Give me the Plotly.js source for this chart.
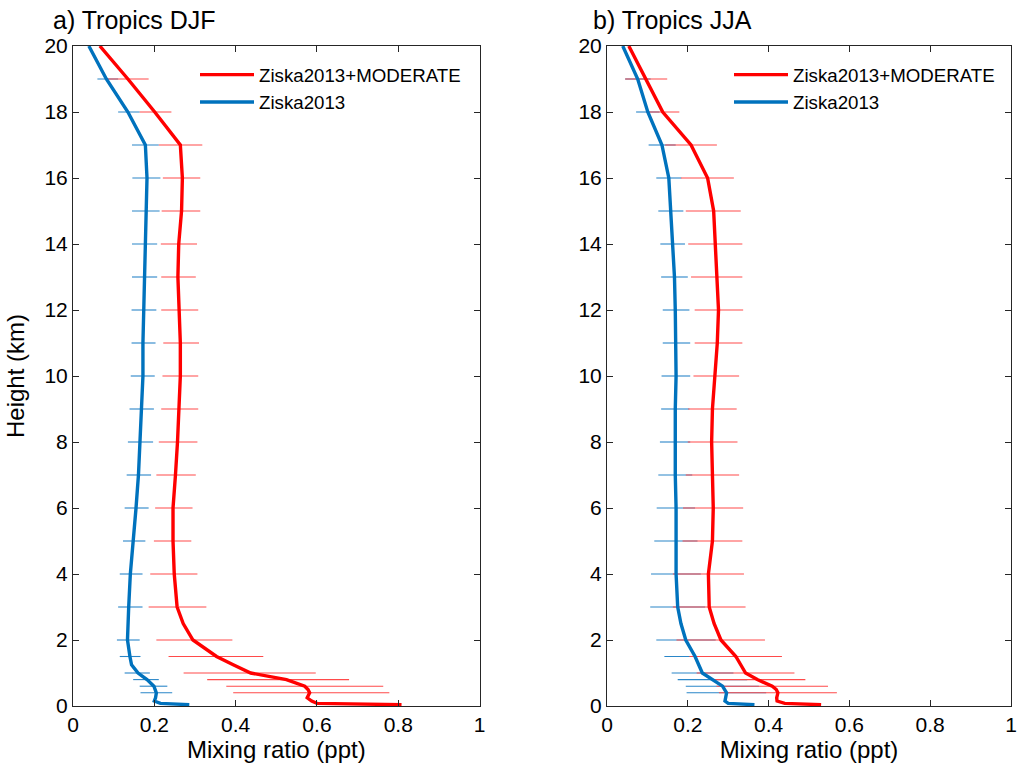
<!DOCTYPE html>
<html>
<head>
<meta charset="utf-8">
<script src="https://cdn.plot.ly/plotly-3.0.1.min.js"></script>
<style>html,body{margin:0;padding:0;background:#fff;}#chart{width:1017px;height:772px;}</style>
</head>
<body>
<div id="chart"></div>
<script>
// ---------- Data ----------
// Panel a) Tropics DJF – profiles (height in km, mixing ratio in ppt)
const djfModHeight = [20,19,18,17,16,15,14,13,12,11,10,9,8,7,6,5,4,3,2.5,2,1.5,1.25,1.0,0.8,0.6,0.5,0.4,0.25,0.15,0.08,0.04];
const djfModValue  = [0.066,0.135,0.201,0.264,0.269,0.267,0.260,0.258,0.261,0.264,0.264,0.261,0.257,0.252,0.246,0.246,0.249,0.256,0.271,0.295,0.353,0.394,0.437,0.525,0.570,0.578,0.582,0.576,0.587,0.600,0.808];
const djfZisHeight = [20,19,18,17,16,15,14,13,12,11,10,9,8,7,6,5,4,3,2,1.5,1.25,1.0,0.8,0.6,0.4,0.25,0.15,0.08,0.04];
const djfZisValue  = [0.039,0.082,0.135,0.178,0.182,0.180,0.177,0.176,0.174,0.172,0.172,0.169,0.165,0.161,0.155,0.148,0.141,0.137,0.134,0.140,0.144,0.160,0.182,0.199,0.205,0.203,0.200,0.215,0.286];

// Panel b) Tropics JJA – profiles
const jjaModHeight = [20,19,18,17,16,15,14,13,12,11,10,9,8,7,6,5,4,3,2.5,2,1.5,1.25,1.0,0.8,0.7,0.6,0.5,0.4,0.25,0.15,0.08,0.04];
const jjaModValue  = [0.054,0.097,0.138,0.208,0.249,0.264,0.268,0.271,0.276,0.273,0.268,0.261,0.259,0.261,0.263,0.261,0.251,0.253,0.265,0.282,0.319,0.331,0.343,0.372,0.392,0.409,0.419,0.423,0.420,0.421,0.440,0.530];
const jjaZisHeight = [20,19,18,17,16,15,14,13,12,11,10,9,8,7,6,5,4,3,2.5,2,1.5,1.0,0.8,0.6,0.4,0.25,0.15,0.08,0.04];
const jjaZisValue  = [0.039,0.076,0.101,0.136,0.153,0.158,0.163,0.167,0.169,0.171,0.171,0.169,0.168,0.169,0.171,0.171,0.171,0.175,0.183,0.195,0.218,0.236,0.261,0.286,0.296,0.294,0.292,0.300,0.365];

// Spread (horizontal bars) heights
const barHeight = [19,18,17,16,15,14,13,12,11,10,9,8,7,6,5,4,3,2,1.5,1.0,0.8,0.6,0.4];
// DJF spreads (low / high)
const djfModLow  = [0.085,0.164,0.211,0.221,0.218,0.216,0.217,0.217,0.222,0.220,0.217,0.211,0.205,0.202,0.199,0.190,0.186,0.205,0.235,0.272,0.330,0.377,0.394];
const djfModHigh = [0.186,0.242,0.318,0.313,0.313,0.305,0.302,0.308,0.310,0.308,0.308,0.306,0.302,0.294,0.291,0.306,0.328,0.392,0.468,0.597,0.679,0.763,0.778];
const djfZisLow  = [0.060,0.111,0.145,0.146,0.145,0.145,0.145,0.144,0.144,0.142,0.139,0.135,0.132,0.127,0.123,0.115,0.111,0.108,0.115,0.127,0.148,0.164,0.166];
const djfZisHigh = [0.111,0.164,0.211,0.215,0.213,0.207,0.207,0.205,0.203,0.201,0.199,0.197,0.192,0.186,0.178,0.171,0.171,0.164,0.166,0.189,0.211,0.232,0.244];
// JJA spreads (low / high)
const jjaModLow  = [0.045,0.097,0.144,0.183,0.195,0.201,0.208,0.217,0.217,0.214,0.201,0.200,0.195,0.188,0.187,0.163,0.163,0.172,0.204,0.222,0.261,0.271,0.277];
const jjaModHigh = [0.149,0.179,0.272,0.314,0.331,0.335,0.335,0.337,0.335,0.327,0.321,0.323,0.327,0.337,0.335,0.339,0.343,0.391,0.433,0.464,0.491,0.547,0.569];
const jjaZisLow  = [0.045,0.072,0.103,0.122,0.127,0.132,0.134,0.138,0.138,0.135,0.134,0.131,0.127,0.123,0.117,0.109,0.107,0.122,0.142,0.160,0.175,0.195,0.197];
const jjaZisHigh = [0.108,0.130,0.170,0.184,0.189,0.193,0.200,0.204,0.206,0.206,0.204,0.206,0.211,0.218,0.224,0.232,0.243,0.269,0.295,0.313,0.347,0.376,0.394];

const panelTitles = ['a) Tropics DJF', 'b) Tropics JJA'];
const seriesNames = ['Ziska2013+MODERATE', 'Ziska2013'];
const xTicks = [0, 0.2, 0.4, 0.6, 0.8, 1];
const yTicks = [0, 2, 4, 6, 8, 10, 12, 14, 16, 18, 20];

// ---------- Styling ----------
const RED = '#FF0000', BLUE = '#0072BD';
const RED_BAR = '#FF4A4A', BLUE_BAR = '#2A86C8';
const FONT = 'Liberation Sans, Arial, Helvetica, sans-serif';

function barTrace(lo, hi, color, xa, ya) {
  const mid = lo.map((v, i) => (v + hi[i]) / 2);
  return {
    x: mid, y: barHeight, xaxis: xa, yaxis: ya, type: 'scatter', mode: 'markers',
    marker: {size: 1, opacity: 0}, showlegend: false, hoverinfo: 'skip',
    error_x: {type: 'data', symmetric: false,
      array: hi.map((v, i) => v - mid[i]), arrayminus: mid.map((v, i) => v - lo[i]),
      color: color, thickness: 1.1, width: 0}
  };
}
function lineTrace(x, y, name, color, xa, ya, legend, rank) {
  return {x: x, y: y, name: name, xaxis: xa, yaxis: ya, type: 'scatter', mode: 'lines',
    line: {color: color, width: 3.4}, legend: legend, legendrank: rank};
}

const traces = [
  barTrace(djfZisLow, djfZisHigh, BLUE_BAR, 'x', 'y'),
  barTrace(djfModLow, djfModHigh, RED_BAR, 'x', 'y'),
  lineTrace(djfZisValue, djfZisHeight, seriesNames[1], BLUE, 'x', 'y', 'legend', 2),
  lineTrace(djfModValue, djfModHeight, seriesNames[0], RED, 'x', 'y', 'legend', 1),
  barTrace(jjaZisLow, jjaZisHigh, BLUE_BAR, 'x2', 'y2'),
  barTrace(jjaModLow, jjaModHigh, RED_BAR, 'x2', 'y2'),
  lineTrace(jjaZisValue, jjaZisHeight, seriesNames[1], BLUE, 'x2', 'y2', 'legend2', 2),
  lineTrace(jjaModValue, jjaModHeight, seriesNames[0], RED, 'x2', 'y2', 'legend2', 1)
];

const W = 1017, H = 772;
function axisCommon() {
  return {showgrid: false, zeroline: false, showline: true, mirror: 'ticks', linecolor: '#262626', linewidth: 1,
    ticks: 'inside', ticklen: 6, tickwidth: 1, tickcolor: '#262626', ticklabeloverflow: 'allow',
    tickfont: {family: FONT, size: 21, color: '#000'}};
}
const xa1 = Object.assign(axisCommon(), {domain: [73/W, 479.6/W], range: [0, 1], tickvals: xTicks, ticktext: xTicks.map(String), anchor: 'y',
  title: {text: 'Mixing ratio (ppt)', font: {family: FONT, size: 24, color: '#000'}, standoff: 3}});
const xa2 = Object.assign(axisCommon(), {domain: [607/W, 1011/W], range: [0, 1], tickvals: xTicks, ticktext: xTicks.map(String), anchor: 'y2',
  title: {text: 'Mixing ratio (ppt)', font: {family: FONT, size: 24, color: '#000'}, standoff: 3}});
const ya1 = Object.assign(axisCommon(), {domain: [1 - 706/H, 1 - 46/H], range: [0, 20], tickvals: yTicks, anchor: 'x',
  title: {text: 'Height (km)', font: {family: FONT, size: 24, color: '#000'}, standoff: 13}});
const ya2 = Object.assign(axisCommon(), {domain: [1 - 706/H, 1 - 46/H], range: [0, 20], tickvals: yTicks, anchor: 'x2'});

function legendCfg(xpx) {
  return {x: xpx / W, y: 1 - 56 / H, xanchor: 'left', yanchor: 'top', bgcolor: 'rgba(0,0,0,0)', borderwidth: 0,
    font: {family: FONT, size: 18.7, color: '#000'}, itemwidth: 54, tracegroupgap: 0, traceorder: 'normal'};
}

const layout = {
  width: W, height: H, margin: {l: 0, r: 0, t: 0, b: 0}, paper_bgcolor: '#fff', plot_bgcolor: '#fff',
  showlegend: true,
  xaxis: xa1, yaxis: ya1, xaxis2: xa2, yaxis2: ya2,
  legend: legendCfg(195), legend2: legendCfg(729),
  annotations: [
    {text: panelTitles[0], xref: 'paper', yref: 'paper', x: 51/W, y: 1 - 20/H, xanchor: 'left', yanchor: 'middle', showarrow: false,
      font: {family: FONT, size: 25, color: '#000'}},
    {text: panelTitles[1], xref: 'paper', yref: 'paper', x: 591/W, y: 1 - 20/H, xanchor: 'left', yanchor: 'middle', showarrow: false,
      font: {family: FONT, size: 25, color: '#000'}}
  ]
};

Plotly.newPlot('chart', traces, layout, {displayModeBar: false, staticPlot: true});
</script>
</body>
</html>
